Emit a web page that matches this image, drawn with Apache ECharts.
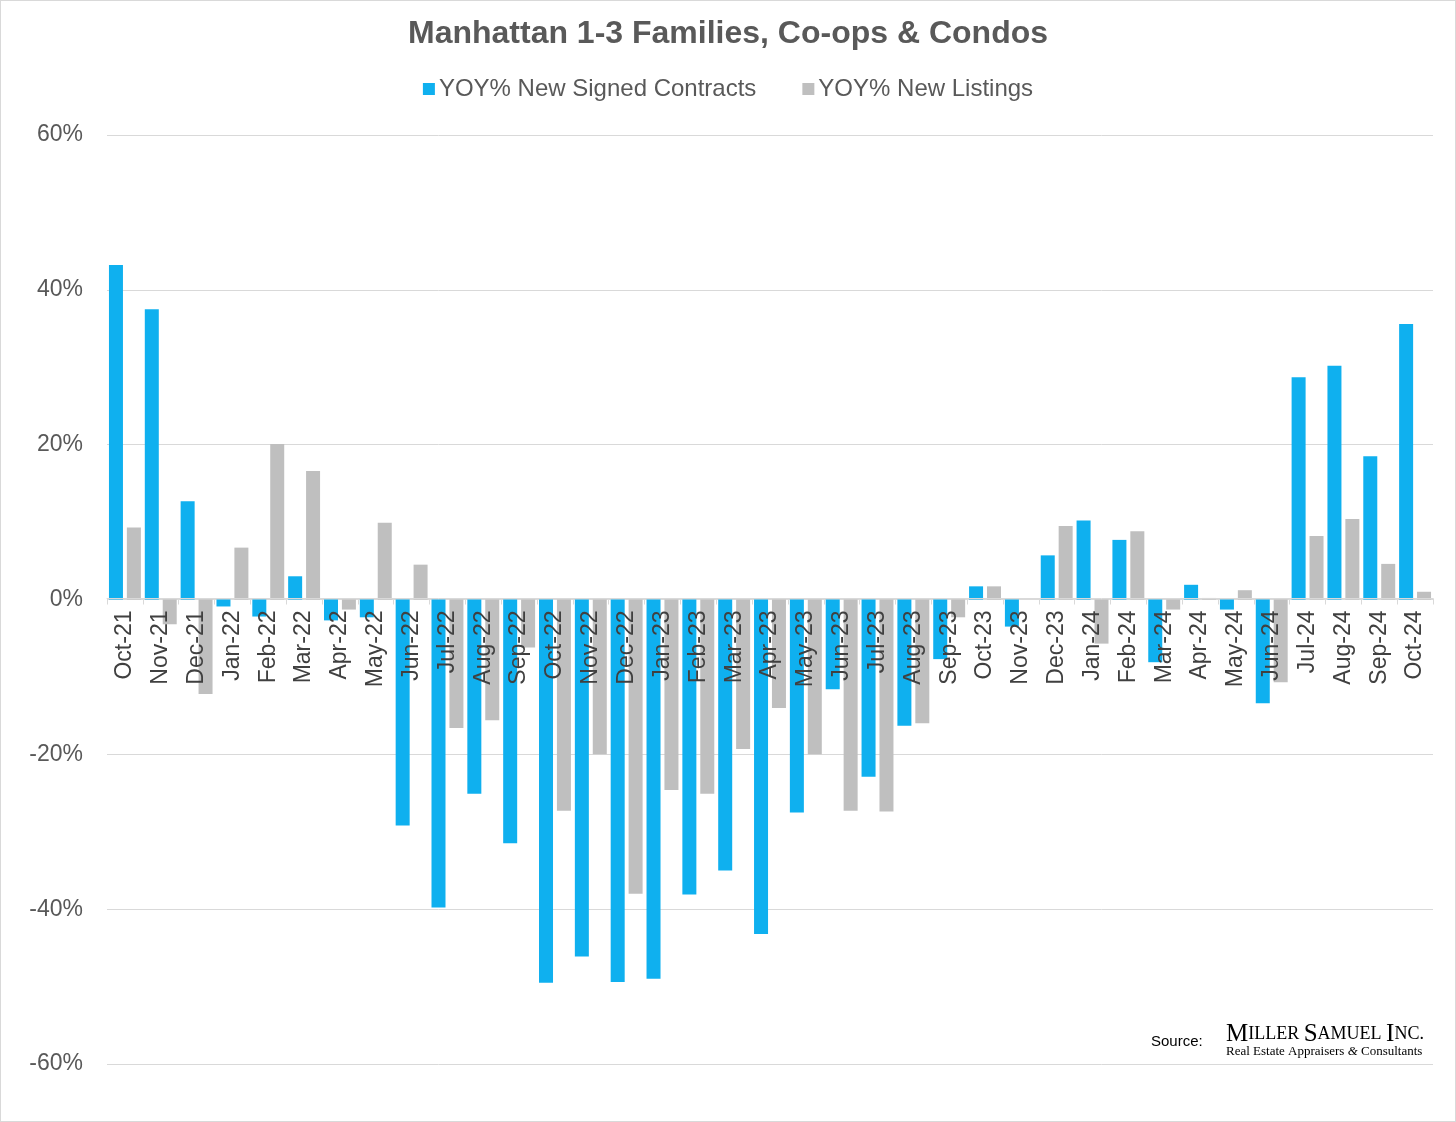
<!DOCTYPE html>
<html>
<head>
<meta charset="utf-8">
<script src="https://cdn.jsdelivr.net/npm/echarts@6/dist/echarts.min.js"></script>
<style>
html,body{margin:0;padding:0;background:#fff;}
#chart{width:1456px;height:1122px;box-sizing:border-box;border:1px solid #d9d9d9;}
</style>
</head>
<body>
<div id="chart"></div>
<script>
const categories = ["Oct-21","Nov-21","Dec-21","Jan-22","Feb-22","Mar-22","Apr-22","May-22","Jun-22","Jul-22","Aug-22","Sep-22","Oct-22","Nov-22","Dec-22","Jan-23","Feb-23","Mar-23","Apr-23","May-23","Jun-23","Jul-23","Aug-23","Sep-23","Oct-23","Nov-23","Dec-23","Jan-24","Feb-24","Mar-24","Apr-24","May-24","Jun-24","Jul-24","Aug-24","Sep-24","Oct-24"];
const signedContracts = [43.2,37.5,12.7,-0.9,-2.2,3.0,-2.7,-2.3,-29.2,-39.8,-25.1,-31.5,-49.5,-46.1,-49.4,-49.0,-38.1,-35.0,-43.2,-27.5,-11.6,-22.9,-16.3,-7.7,1.7,-3.5,5.7,10.2,7.7,-8.1,1.9,-1.3,-13.4,28.7,30.2,18.5,35.6];
const newListings = [9.3,-3.2,-12.2,6.7,20.1,16.6,-1.3,9.9,4.5,-16.6,-15.6,-6.2,-27.3,-20.0,-38.0,-24.6,-25.1,-19.3,-14.0,-20.0,-27.3,-27.4,-16.0,-2.3,1.7,0.0,9.5,-5.7,8.8,-1.3,0.2,1.2,-10.7,8.2,10.4,4.6,1.0];
const yTicks = [-60,-40,-20,0,20,40,60];
const yMin = -60, yMax = 60;

const H = 1122, gridTop = 134, gridBottom = 57;
const plotH = H - gridTop - gridBottom;
// distance of the zero line from the bottom edge of the plot
const zeroOffset = -plotH * (0 - yMin) / (yMax - yMin);

const chart = echarts.init(document.getElementById('chart'));
const font = '"Liberation Sans", Arial, sans-serif';
chart.setOption({
  animation:false,
  backgroundColor:'#ffffff',
  title:{
    text:'Manhattan 1-3 Families, Co-ops & Condos',
    left:'center', top:12,
    textStyle:{fontFamily:font,fontSize:32,fontWeight:'bold',color:'#595959'}
  },
  legend:{
    top:71, left:'center',
    itemWidth:12,itemHeight:12,itemGap:46,
    icon:'rect',
    textStyle:{fontFamily:font,fontSize:24,color:'#595959',padding:[0,0,0,-1]},
    data:['YOY% New Signed Contracts','YOY% New Listings']
  },
  grid:{left:106,right:22,top:gridTop,bottom:gridBottom,containLabel:false,outerBoundsMode:'none'},
  xAxis:{
    type:'category',
    data:categories,
    position:'bottom',
    offset:zeroOffset,
    z:5,
    axisLine:{onZero:false,lineStyle:{color:'#d9d9d9',width:1}},
    axisTick:{show:true,length:6,lineStyle:{color:'#d9d9d9'}},
    axisLabel:{rotate:90,interval:0,margin:12,fontFamily:font,fontSize:23,color:'#404040'},
    splitLine:{show:false}
  },
  yAxis:{
    type:'value',
    min:yMin,max:yMax,interval:20,
    axisLine:{show:false},axisTick:{show:false},
    axisLabel:{formatter:v=>yTicks.includes(v)?v+'%':'',margin:24,fontFamily:font,fontSize:23,color:'#595959'},
    splitLine:{lineStyle:{color:'#d9d9d9',width:1}}
  },
  series:[
    {name:'YOY% New Signed Contracts',type:'bar',data:signedContracts,barWidth:14,barGap:'28%',
     itemStyle:{color:'#0fb0ef'}},
    {name:'YOY% New Listings',type:'bar',data:newListings,barWidth:14,barGap:'28%',
     itemStyle:{color:'#bfbfbf'}}
  ],
  graphic:[
    {type:'text',left:1150,top:1033,style:{text:'Source:',fontFamily:font,fontSize:15,fill:'#000'}},
    {type:'text',left:1225,top:1021,style:{
      text:'{b|M}{s|ILLER }{b|S}{s|AMUEL }{b|I}{s|NC.}',
      rich:{
        b:{fontFamily:'"Liberation Serif", serif',fontSize:25,color:'#5a1f24'},
        s:{fontFamily:'"Liberation Serif", serif',fontSize:18,color:'#5a1f24'}
      }}},
    {type:'text',left:1225,top:1044,style:{
      text:'{a|Real Estate Appraisers }{i|&}{a| Consultants}',
      rich:{
        a:{fontFamily:'"Liberation Serif", serif',fontSize:13,color:'#555'},
        i:{fontFamily:'"Liberation Serif", serif',fontSize:13,fontStyle:'italic',color:'#555'}
      }}}
  ]
});
</script>
</body>
</html>
